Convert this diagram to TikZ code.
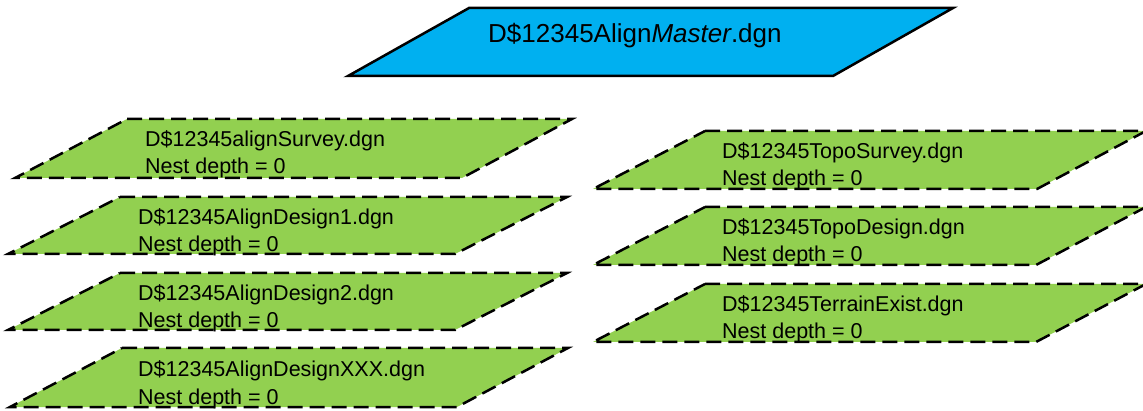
\documentclass[tikz,border=0pt]{standalone}
\usepackage{fontspec}
\setmainfont{Liberation Sans}
\definecolor{sky}{HTML}{00B0F0}
\definecolor{leaf}{HTML}{92D050}
\begin{document}
\begin{tikzpicture}[x=1pt,y=-1pt,
  master/.style={fill=sky, draw=black, line width=2.5pt, line join=miter},
  layer/.style={fill=leaf, draw=black, line width=2.5pt, dash pattern=on 15pt off 7pt},
  title/.style={anchor=base west, inner sep=0pt, font=\fontsize{26}{30}\selectfont},
  label/.style={anchor=base west, inner sep=0pt, font=\fontsize{21.5}{24}\selectfont}]
\useasboundingbox (0,0) rectangle (1143,411);

% master file
\path[master] (469,8) -- (953,8) -- (833,76) -- (348,76) -- cycle;
\node[title] (mst) at (488,43) {D\$12345Align\textit{Master}.dgn};

% alignment references (left column)
\path[layer] (127,119) -- (572,119) -- (462,178) -- (15,178) -- cycle;
\node[label] (l1a) at (145,147) {D\$12345alignSurvey.dgn};
\node[label] (l1b) at (145,174) {Nest depth = 0};

\path[layer] (120,197) -- (567,197) -- (455,254) -- (8,254) -- cycle;
\node[label] (l2a) at (138,225) {D\$12345AlignDesign1.dgn};
\node[label] (l2b) at (138,252) {Nest depth = 0};

\path[layer] (120,273) -- (567,273) -- (455,330) -- (8,330) -- cycle;
\node[label] (l3a) at (138,301) {D\$12345AlignDesign2.dgn};
\node[label] (l3b) at (138,328) {Nest depth = 0};

\path[layer] (122,348) -- (568,348) -- (457,407) -- (10,407) -- cycle;
\node[label] (l4a) at (138,377) {D\$12345AlignDesignXXX.dgn};
\node[label] (l4b) at (138,404) {Nest depth = 0};

% terrain references (right column)
\path[layer] (705,131) -- (1146,131) -- (1037,189) -- (593,189) -- cycle;
\node[label] (r1a) at (722,159) {D\$12345TopoSurvey.dgn};
\node[label] (r1b) at (722,186) {Nest depth = 0};

\path[layer] (705,207) -- (1146,207) -- (1036,265) -- (593,265) -- cycle;
\node[label] (r2a) at (722,235) {D\$12345TopoDesign.dgn};
\node[label] (r2b) at (722,262) {Nest depth = 0};

\path[layer] (705,284) -- (1146,284) -- (1036,342) -- (593,342) -- cycle;
\node[label] (r3a) at (722,312) {D\$12345TerrainExist.dgn};
\node[label] (r3b) at (722,339) {Nest depth = 0};
\end{tikzpicture}
\end{document}
